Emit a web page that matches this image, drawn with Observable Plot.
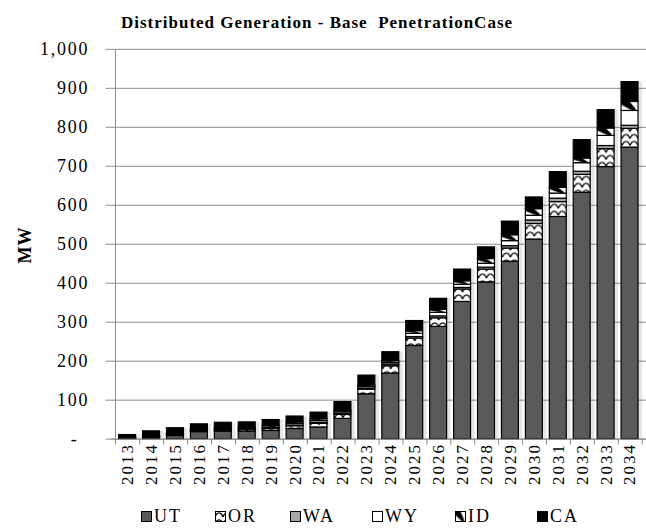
<!DOCTYPE html>
<html><head><meta charset="utf-8">
<script src="https://cdn.jsdelivr.net/npm/d3@7"></script>
<script src="https://cdn.jsdelivr.net/npm/@observablehq/plot@0.6"></script>
<style>
html,body{margin:0;padding:0;background:#fff;overflow:hidden;}
#wrap{position:relative;width:646px;height:532px;overflow:hidden;font-family:"Liberation Serif","Times New Roman",serif;color:#000;}
#title{position:absolute;top:13px;left:0;width:634px;text-align:center;font-weight:bold;font-size:17px;letter-spacing:1px;white-space:pre;}
#chart{position:absolute;top:0;left:0;}
#ylab{position:absolute;left:25px;top:245px;transform:translate(-50%,-50%) rotate(-90deg);font-weight:bold;font-size:18px;letter-spacing:1px;}
.leg{position:absolute;top:506px;font-size:18px;letter-spacing:2px;display:flex;align-items:center;white-space:nowrap;}
.leg svg{margin-right:2px;}
#chart svg [aria-label="y-axis tick label"] text{letter-spacing:1.8px;}
#chart svg [aria-label="x-axis tick label"] text{letter-spacing:2px;}
</style></head>
<body>
<svg width="0" height="0" style="position:absolute">
  <defs>
    <pattern id="pat-or" patternUnits="userSpaceOnUse" width="8" height="7">
      <rect width="8" height="7" fill="#fff"/>
      <path d="M0,6 C2,0.5 6,0.5 8,6" fill="none" stroke="#000" stroke-width="1.4"/>
    </pattern>
    <pattern id="pat-id" patternUnits="objectBoundingBox" patternContentUnits="objectBoundingBox" width="1" height="1">
      <rect width="1" height="1" fill="#fff"/>
      <polygon points="0,0 0.5,0 0.85,0.8 0.85,1 0.65,1 0,0.35" fill="#000"/>
    </pattern>
  </defs>
</svg>
<div id="wrap">
  <div id="chart"></div>
  <div id="title">Distributed Generation - Base  PenetrationCase</div>
  <div id="ylab">MW</div>
  <div id="legend"></div>
</div>
<script>
const years = ["2013","2014","2015","2016","2017","2018","2019","2020","2021","2022","2023","2024","2025","2026","2027","2028","2029","2030","2031","2032","2033","2034"];
const UT = [1,4,8,18,19,19,21,26,30,52,115,168,239,288,352,402,455,512,570,632,698,748];
const OR = [0.5,1,2,2,3,4,5,7,9,10,12,19,19,22,32,33,34,40,38,46,46,48];
const WA = [0,0.5,1,1,1,1,1,2,2,3,3,4,4,5,4,5,6,9,9,8,8,8];
const WY = [0.5,1,2,2,2,3,3,4,5,4,4,4,8,9,8,10,13,12,13,22,26,38];
const ID = [0.5,0.5,2,2,3,3,4,4,5,4,4,5,7,8,9,12,15,17,15,12,19,23];
const CA = [8,13,13,13,14,13,15,15,17,22,25,23,26,28,30,30,35,30,40,47,47,51];
const states = ["UT","OR","WA","WY","ID","CA"];
const yTicks = [0,100,200,300,400,500,600,700,800,900,1000];

const series = {UT, OR, WA, WY, ID, CA};
const fills = ["#595959","url(#pat-or)","#a6a6a6","#ffffff","url(#pat-id)","#000000"];
const data = years.flatMap((y,i)=>states.map(s=>({year:y,state:s,value:series[s][i]})));
const totals = years.map((y,i)=>({year:y,total:states.reduce((a,s)=>a+series[s][i],0)}));

const W = 648, ML = 111;
const step = (W - ML) / years.length;
const grid = "#8c8c8c";
const fmt = d => d === 0 ? "-\u2007" : d3.format(",")(d);

const chart = Plot.plot({
  width: W, height: 500,
  marginTop: 49, marginBottom: 60, marginLeft: ML, marginRight: 0,
  style: {fontFamily: '"Liberation Serif","Times New Roman",serif', fontSize: "18px", background: "transparent", color: "#000", overflow: "visible"},
  x: {domain: years, paddingInner: 0.3, paddingOuter: 0.15, label: null},
  y: {domain: [0, 1000], label: null},
  color: {domain: states, range: fills},
  marks: [
    Plot.gridY(yTicks, {stroke: grid, strokeOpacity: 1, strokeWidth: 1}),
    Plot.barY(totals, {x: "year", y: "total", fill: "#000", fillOpacity: 0.1, dx: 4}),
    Plot.barY(data, {x: "year", y: "value", fill: "state", stroke: "#000", strokeWidth: 1.2}),
    Plot.ruleY([0], {stroke: grid}),
    Plot.ruleX([years[0]], {dx: -step/2, stroke: grid}),
    Plot.axisY({ticks: yTicks, tickSize: 5, tickPadding: 17, tickFormat: fmt, stroke: grid, fontSize: 18}),
    Plot.axisX({ticks: years, tickSize: 6, dx: step/2, tickFormat: () => "", stroke: grid}),
    Plot.axisX({ticks: [years[0]], tickSize: 6, dx: -step/2, tickFormat: () => "", stroke: grid}),
    Plot.axisX({ticks: years, tickSize: 0, tickRotate: -90, tickPadding: 4, fontSize: 17})
  ]
});
document.getElementById("chart").appendChild(chart);

const legLeft = [141, 215, 290, 372, 455, 537];
const legend = document.getElementById("legend");
states.forEach((s, i) => {
  const div = document.createElement("div");
  div.className = "leg";
  div.style.left = legLeft[i] + "px";
  div.innerHTML = `<svg width="11" height="11"><rect x="0.5" y="0.5" width="10" height="10" fill="${fills[i]}" stroke="#000" stroke-width="1"/></svg><span>${s}</span>`;
  legend.appendChild(div);
});
</script>
</body></html>
